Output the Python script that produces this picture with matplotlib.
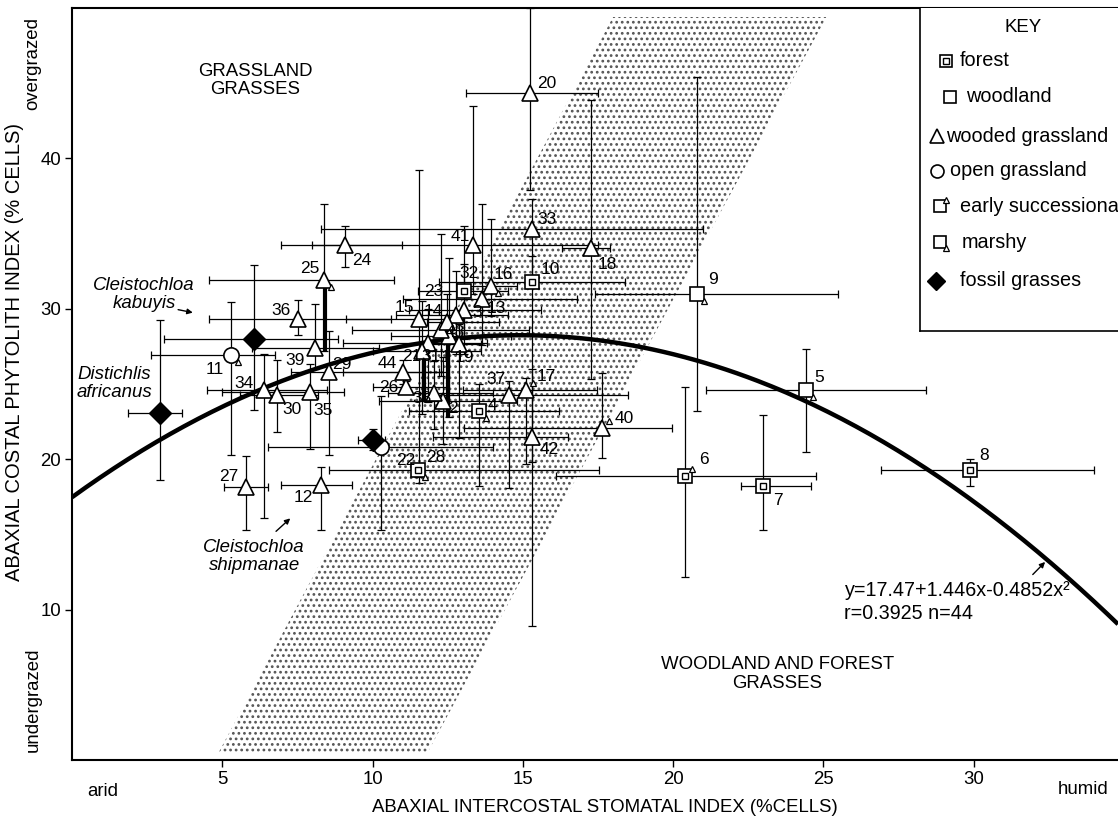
import matplotlib
matplotlib.use('Agg')
import matplotlib.pyplot as plt
from matplotlib.transforms import offset_copy
from matplotlib.patches import Polygon
import numpy as np

plt.rcParams['font.family'] = ['Liberation Sans', 'DejaVu Sans']
plt.rcParams['hatch.linewidth'] = 1.2

# ---------------- data ----------------
ids = list(range(1, 45))
xs = [12.55, 12.35, 13.05, 13.53, 24.42, 20.4, 23.0, 29.86, 20.8, 15.32,
      5.3, 8.28, 13.64, 12.27, 11.55, 13.94, 15.1, 17.26, 12.88, 15.25,
      11.83, 10.27, 12.77, 9.08, 8.38, 11.1, 5.78, 11.5, 8.55, 6.83,
      11.65, 13.05, 15.3, 6.39, 7.91, 7.52, 14.55, 12.05, 8.1, 17.63,
      13.33, 15.3, 12.49, 11.02]
ys = [28.2, 23.9, 29.9, 23.2, 24.6, 18.9, 18.2, 19.3, 31.0, 31.8,
      26.9, 18.3, 30.65, 28.6, 29.3, 31.5, 24.6, 34.05, 27.65, 44.33,
      27.7, 20.8, 29.6, 34.24, 31.94, 24.8, 18.15, 19.3, 25.8, 24.3,
      27.2, 31.2, 35.3, 24.6, 24.46, 29.33, 24.3, 24.4, 27.4, 22.05,
      34.24, 21.5, 29.15, 25.8]
x_lo = [10.6, 10.2, 11.2, 11.2, 21.1, 16.1, 22.26, 26.9, 17.4, 12.2,
        2.62, 6.95, 11.0, 9.3, 9.12, 12.8, 13.0, 16.3, 11.9, 13.1,
        9.0, 6.53, 10.77, 6.96, 4.56, 10.0, 5.06, 8.55, 7.3, 5.6,
        10.0, 11.5, 8.27, 4.5, 5.0, 4.56, 11.9, 10.5, 6.0, 13.05,
        8.0, 12.0, 11.8, 9.0]
x_hi = [14.6, 14.8, 15.6, 16.2, 28.4, 24.75, 24.6, 34.0, 25.5, 18.4,
        6.76, 9.33, 16.8, 15.2, 13.0, 14.8, 17.47, 17.9, 13.6, 17.5,
        13.8, 14.0, 14.5, 10.98, 10.7, 12.5, 6.53, 17.54, 12.2, 8.2,
        13.6, 14.5, 21.0, 8.5, 9.05, 10.6, 18.5, 14.0, 10.2, 19.96,
        17.5, 16.5, 14.2, 12.5]
y_lo = [22.8, 21.0, 27.0, 18.2, 20.5, 12.2, 15.3, 18.2, 23.2, 19.8,
        20.3, 15.3, 27.6, 25.5, 18.4, 29.5, 19.7, 25.3, 21.4, 37.9,
        23.8, 15.3, 27.0, 32.79, 27.2, 24.4, 15.3, 18.8, 20.3, 21.8,
        23.0, 28.0, 32.0, 16.1, 20.7, 28.26, 18.1, 22.0, 26.0, 20.1,
        31.0, 8.9, 28.5, 25.0]
y_hi = [33.4, 26.8, 33.0, 25.0, 27.3, 24.8, 22.95, 20.0, 45.4, 33.5,
        30.45, 19.5, 37.0, 35.0, 39.2, 36.0, 25.4, 43.9, 29.0, 50.0,
        30.0, 24.2, 32.5, 35.51, 37.0, 25.2, 20.2, 19.7, 28.5, 26.6,
        30.5, 35.5, 37.3, 27.0, 26.3, 30.6, 25.2, 26.5, 30.3, 25.7,
        43.5, 26.0, 31.0, 26.6]
habitat = ['wg', 'wg', 'wg', 'forest', 'woodland', 'forest', 'forest', 'forest', 'woodland', 'forest',
           'og', 'wg', 'wg', 'wg', 'wg', 'wg', 'wg', 'wg', 'wg', 'wg',
           'wg', 'og', 'wg', 'wg', 'wg', 'wg', 'wg', 'forest', 'wg', 'wg',
           'wg', 'forest', 'wg', 'wg', 'wg', 'wg', 'wg', 'wg', 'wg', 'wg',
           'wg', 'wg', 'wg', 'wg']
modifier = ['', '', '', 'm', 'm', 'e', '', '', 'm', '',
            'm', '', '', '', '', 'm', 'e', '', '', '',
            '', '', '', '', 'm', '', '', 'm', '', '',
            '', '', '', '', '', '', '', '', '', 'e',
            '', '', '', '']

# overlapping (heavy) error bars in the dense cluster
heavy_x = [12.5, 11.72, 8.42]
heavy_y0 = [22.8, 23.8, 27.2]
heavy_y1 = [28.3, 27.6, 31.9]

fossil_names = ['Distichlis\nafricanus', 'Cleistochloa\nkabuyis', 'Cleistochloa\nshipmanae']
fossil_x = [2.93, 6.04, 10.0]
fossil_y = [23.07, 28.0, 21.3]
fossil_x_lo = [1.87, 3.05, 9.5]
fossil_x_hi = [3.65, 8.86, 10.4]
fossil_y_lo = [18.6, 23.3, 20.6]
fossil_y_hi = [29.26, 32.9, 22.0]

band_x = [4.88, 11.83, 25.1, 18.0]
band_y = [0.5, 0.5, 49.4, 49.4]

fit_a, fit_b, fit_c = 17.47, 1.446, 0.04852

x_ticks = [5, 10, 15, 20, 25, 30]
y_ticks = [10, 20, 30, 40]
key_labels = ['forest', 'woodland', 'wooded grassland', 'open grassland',
              'early successional', 'marshy', 'fossil grasses']
key_kinds = [('forest', ''), ('woodland', ''), ('wg', ''), ('og', ''),
             ('woodland', 'e'), ('woodland', 'm'), ('fossil', '')]

# label offsets (pixels, x right / y up) -- layout only
label_off = {1: (-4, -22), 2: (10, -8), 3: (13, -2), 4: (14, 6), 5: (13, 13),
             6: (19, 16), 7: (15, -14), 8: (15, 14), 9: (16, 14), 10: (18, 12),
             11: (-17, -14), 12: (-18, -13), 13: (14, -9), 14: (-7, 18), 15: (-15, 12),
             16: (12, 12), 17: (20, 14), 18: (17, -17), 19: (5, -13), 20: (16, 10),
             21: (-16, -13), 22: (25, -13), 23: (-22, 23), 24: (17, -15), 25: (-14, 11),
             26: (-17, 0), 27: (-17, 11), 28: (18, 12), 29: (13, 7), 30: (15, -15),
             31: (9, -6), 32: (5, 17), 33: (15, 10), 34: (-20, 7), 35: (13, -18),
             36: (-17, 8), 37: (-13, 15), 38: (-12, -5), 39: (-20, -13), 40: (22, 10),
             41: (-12, 9), 42: (17, -13), 43: (8, -11), 44: (-16, 8)}

# ---------------- figure ----------------
W, H = 1118, 816
fig = plt.figure(figsize=(W / 100, H / 100), dpi=100)
ax = fig.add_axes([72 / W, 56 / H, (W - 72) / W, 752 / H])
ax.set_xlim(0, 34.8)
ax.set_ylim(0, 50)

# stipple band
band = Polygon(list(zip(band_x, band_y)), closed=True, facecolor='white',
               edgecolor='#555555', hatch='...', linewidth=0, zorder=1)
ax.add_patch(band)

# fitted curve
cx = np.linspace(0, 34.8, 300)
ax.plot(cx, fit_a + fit_b * cx - fit_c * cx ** 2, color='black', lw=3.2, zorder=4,
        solid_capstyle='butt')

xs_a, ys_a = np.array(xs), np.array(ys)
ax.errorbar(xs_a, ys_a,
            xerr=[xs_a - np.array(x_lo), np.array(x_hi) - xs_a],
            yerr=[ys_a - np.array(y_lo), np.array(y_hi) - ys_a],
            fmt='none', ecolor='black', elinewidth=0.9, capsize=3, capthick=0.9, zorder=3)
ax.vlines(heavy_x, heavy_y0, heavy_y1, colors='black', lw=3.0, zorder=3)
fx, fy = np.array(fossil_x), np.array(fossil_y)
ax.errorbar(fx, fy,
            xerr=[fx - np.array(fossil_x_lo), np.array(fossil_x_hi) - fx],
            yerr=[fy - np.array(fossil_y_lo), np.array(fossil_y_hi) - fy],
            fmt='none', ecolor='black', elinewidth=0.9, capsize=3, capthick=0.9, zorder=3)


def draw_marker(a, x, y, kind, mod, scale=1.0):
    kw = dict(mfc='white', mec='black', ls='none', zorder=5)
    if kind == 'forest':
        a.plot([x], [y], marker='s', ms=10 * scale, mew=1.2, **kw)
        a.plot([x], [y], marker='s', ms=4.6 * scale, mew=1.0, **kw)
    elif kind == 'woodland':
        a.plot([x], [y], marker='s', ms=10 * scale, mew=1.2, **kw)
    elif kind == 'wg':
        a.plot([x], [y], marker='^', ms=12 * scale, mew=1.2, **kw)
    elif kind == 'og':
        a.plot([x], [y], marker='o', ms=11 * scale, mew=1.2, **kw)
    elif kind == 'fossil':
        a.plot([x], [y], marker='D', ms=11 * scale, mfc='black', mec='black',
               ls='none', zorder=5)
    if mod:
        dy = 5.0 if mod == 'e' else -5.0
        tr = offset_copy(a.transData, fig=fig, x=5.0 * scale, y=dy * scale, units='points')
        a.plot([x], [y], marker='^', ms=5 * scale, mew=0.9, transform=tr, **kw)


for i, x, y, h, m in zip(ids, xs, ys, habitat, modifier):
    draw_marker(ax, x, y, h, m)
    ox, oy = label_off[i]
    ax.annotate(str(i), (x, y), xytext=(ox * 0.72, oy * 0.72), textcoords='offset points',
                ha='center', va='center', fontsize=12.5, zorder=6)
for x, y in zip(fossil_x, fossil_y):
    draw_marker(ax, x, y, 'fossil', '')

# fossil names
ax.text(1.42, 25.05, fossil_names[0], style='italic', fontsize=13.4, ha='center', va='center',
        linespacing=1.05, zorder=6)
ax.text(2.4, 30.95, fossil_names[1], style='italic', fontsize=13.4, ha='center', va='center',
        linespacing=1.05, zorder=6)
ax.annotate('', xy=(4.11, 29.71), xytext=(3.44, 29.98),
            arrowprops=dict(arrowstyle='-|>', lw=1, color='black', mutation_scale=8))
ax.text(6.06, 13.55, fossil_names[2], style='italic', fontsize=13.4, ha='center', va='center',
        linespacing=1.05, zorder=6)
ax.annotate('', xy=(7.33, 16.19), xytext=(6.72, 15.08),
            arrowprops=dict(arrowstyle='-|>', lw=1, color='black', mutation_scale=8))

# region labels
ax.text(6.1, 45.2, 'GRASSLAND\nGRASSES', fontsize=13.4, ha='center', va='center', linespacing=1.1)
ax.text(23.47, 5.72, 'WOODLAND AND FOREST\nGRASSES', fontsize=13.4, ha='center', va='center',
        linespacing=1.1)

# equation
ax.text(25.7, 11.3, 'y=17.47+1.446x-0.4852x²', fontsize=14.2, ha='left', va='center')
ax.text(25.7, 9.74, 'r=0.3925 n=44', fontsize=14.2, ha='left', va='center')
ax.annotate('', xy=(32.44, 13.3), xytext=(31.9, 12.2),
            arrowprops=dict(arrowstyle='-|>', lw=1, color='black', mutation_scale=8))

# axes styling
for s in ['left', 'bottom', 'top']:
    ax.spines[s].set_linewidth(1.5)
ax.spines['right'].set_visible(False)
ax.set_xticks(x_ticks)
ax.set_yticks(y_ticks)
ax.tick_params(axis='both', labelsize=13.4, length=5, width=1.0, direction='out', pad=3)
ax.set_xlabel('ABAXIAL INTERCOSTAL STOMATAL INDEX (%CELLS)', fontsize=13.4, labelpad=6)
ax.xaxis.set_label_coords(17.74 / 34.8, -0.052)

fig.text(15 / W, 1 - 352 / H, 'ABAXIAL COSTAL PHYTOLITH INDEX (% CELLS)', rotation=90,
         fontsize=14.5, ha='center', va='center')
fig.text(33 / W, 1 - 64 / H, 'overgrazed', rotation=90, fontsize=13.4, ha='center', va='center')
fig.text(33 / W, 1 - 700 / H, 'undergrazed', rotation=90, fontsize=13.4, ha='center', va='center')
fig.text(103 / W, 1 - 791 / H, 'arid', fontsize=13.4, ha='center', va='center')
fig.text(1083 / W, 1 - 790 / H, 'humid', fontsize=13.4, ha='center', va='center')

# key
kx0, ky0 = 920, 331
kax = fig.add_axes([kx0 / W, 1 - ky0 / H, (W - kx0) / W, (ky0 - 8) / H])
kax.set_xlim(kx0, W)
kax.set_ylim(ky0, 8)
kax.set_facecolor('white')
for s in ['top', 'right']:
    kax.spines[s].set_visible(False)
kax.spines['left'].set_linewidth(1.2)
kax.spines['bottom'].set_linewidth(1.2)
kax.set_xticks([])
kax.set_yticks([])
kax.text(1023, 28, 'KEY', fontsize=13.4, ha='center', va='center')
key_rows = [61, 97, 136, 171, 206, 242, 281]
key_mx = [946, 950, 937, 937, 940, 940, 936]
key_tx = [960, 966, 946, 950, 960, 962, 960]
for lab, (kind, mod), yy, mx, tx in zip(key_labels, key_kinds, key_rows, key_mx, key_tx):
    draw_marker(kax, mx, yy, kind, mod, scale=0.85)
    kax.text(tx, yy, lab, fontsize=14.3, ha='left', va='center', clip_on=True)

fig.savefig('out.png', dpi=100)
